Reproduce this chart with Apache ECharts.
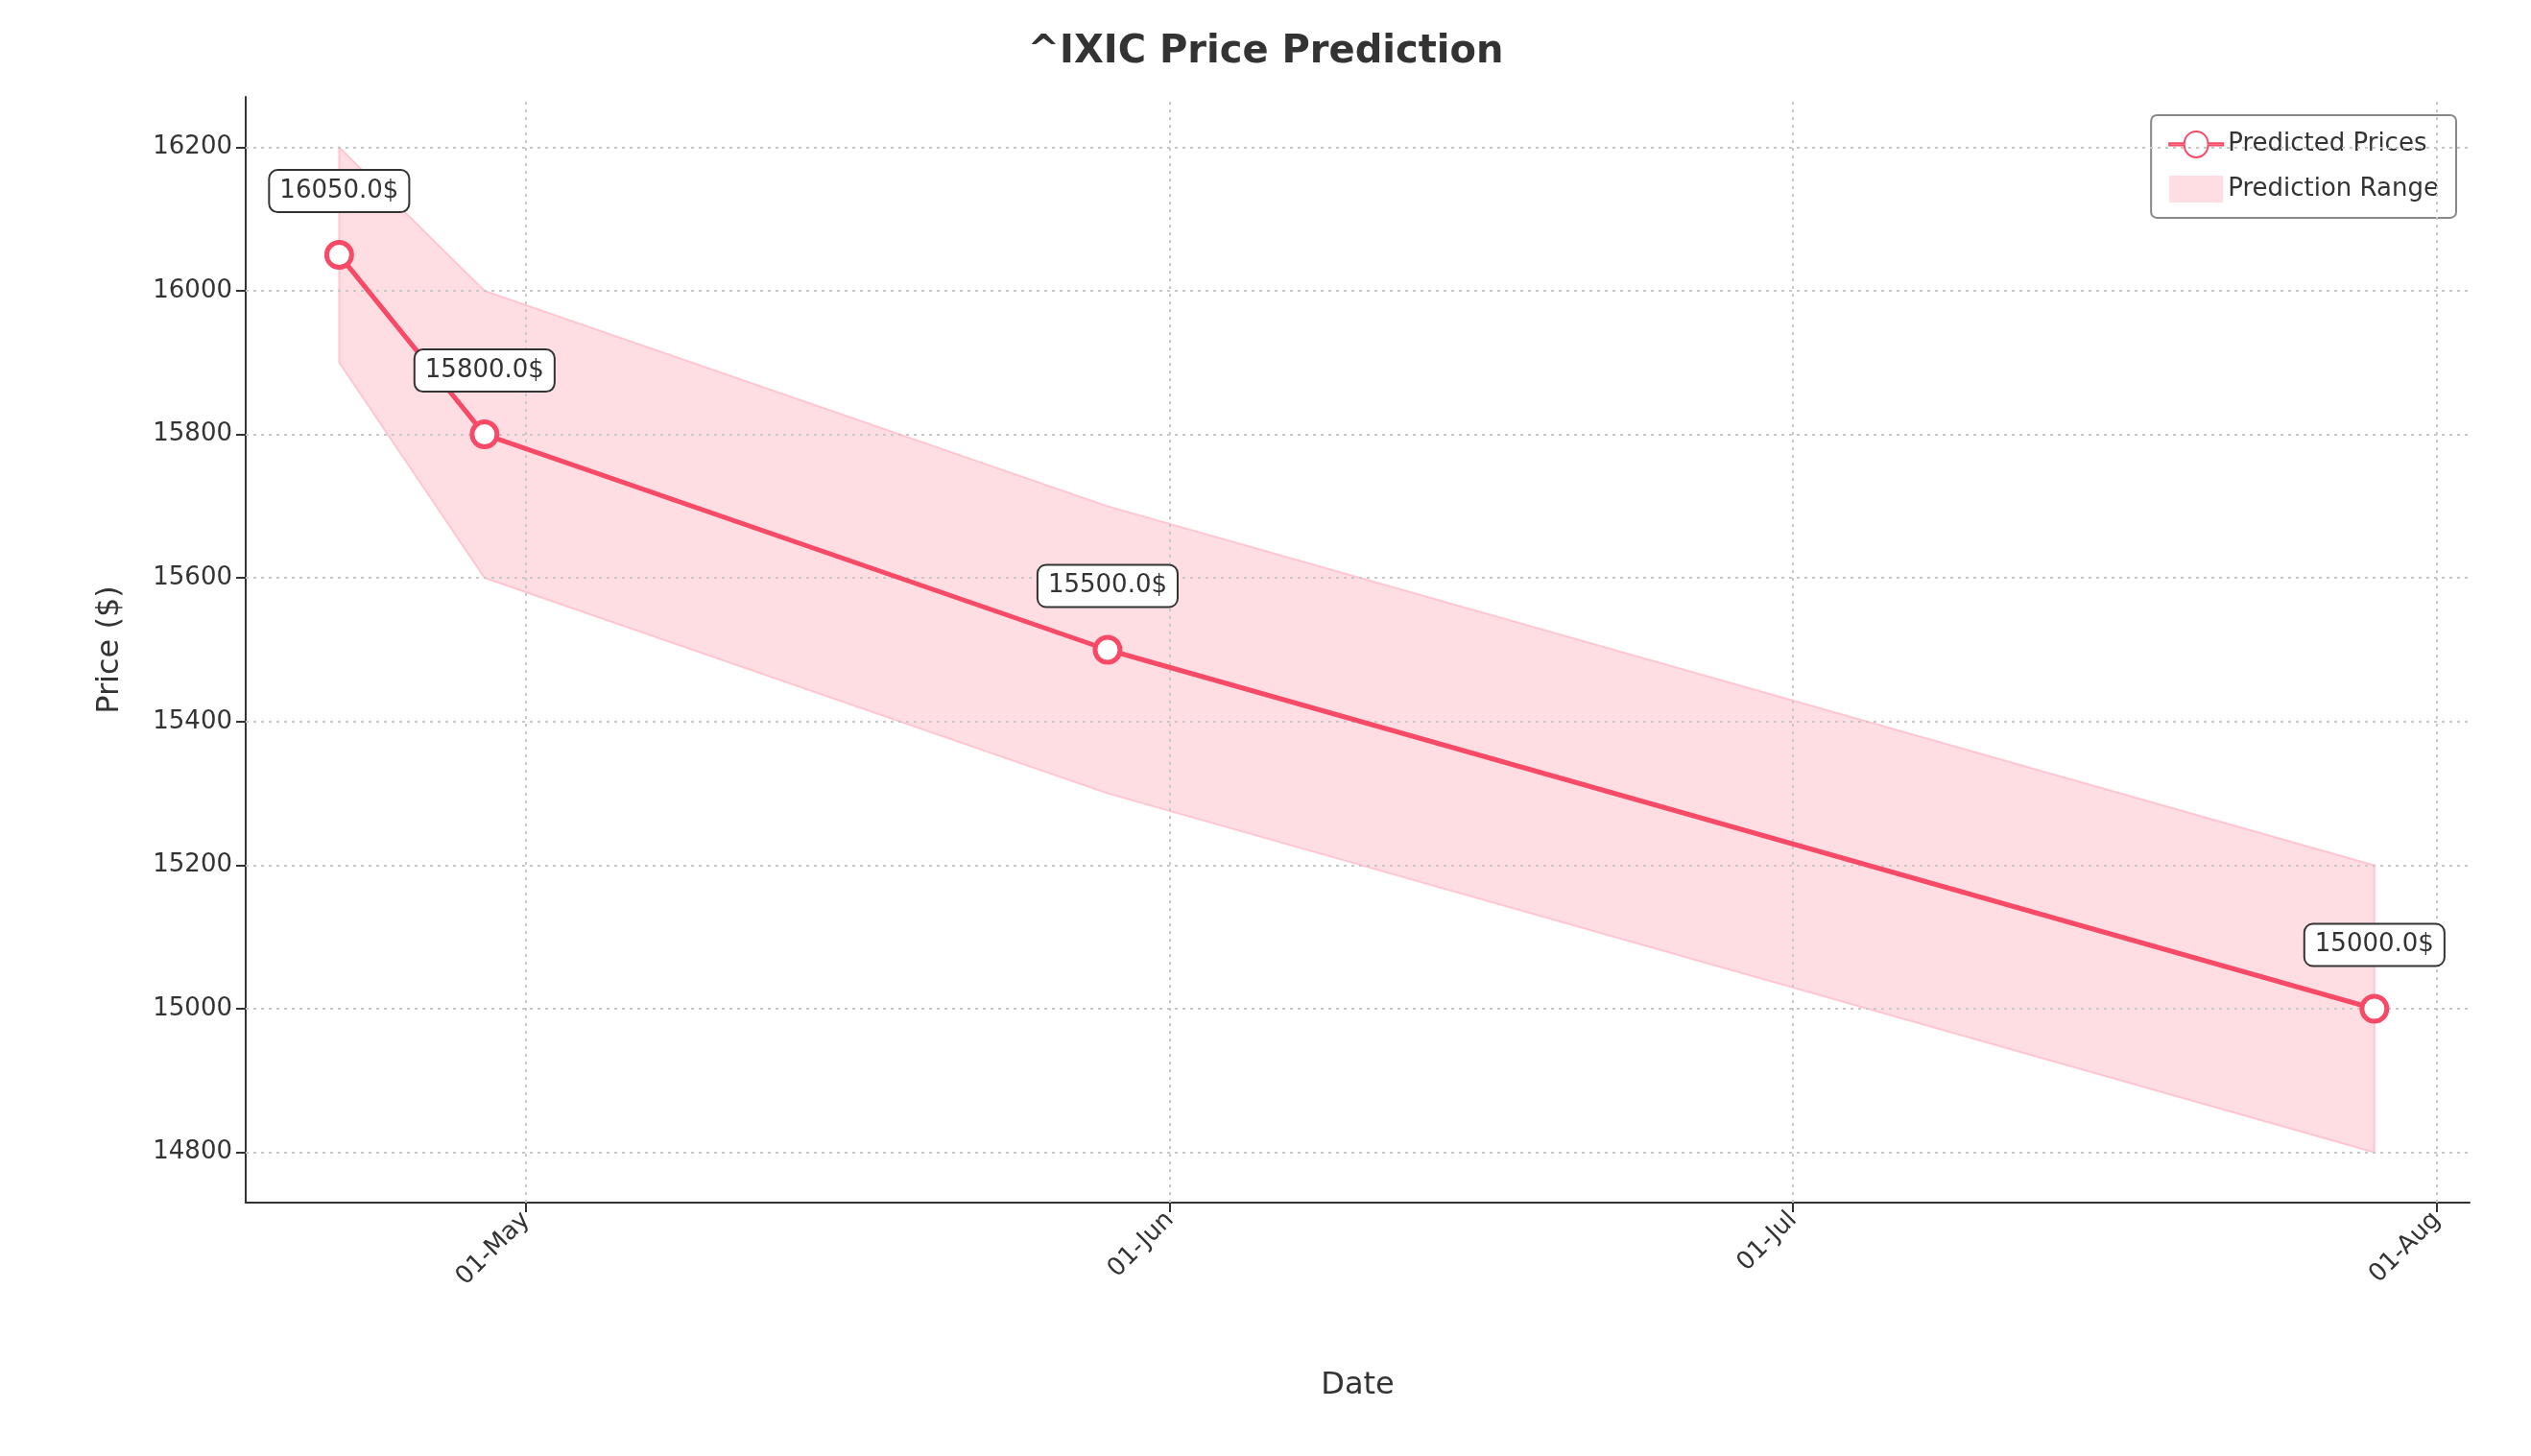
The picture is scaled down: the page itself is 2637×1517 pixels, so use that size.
<!DOCTYPE html>
<html><head><meta charset="utf-8">
<script src="https://cdn.jsdelivr.net/npm/echarts@6/dist/echarts.min.js"></script>
<style>html,body{margin:0;padding:0;background:#fff}#c{width:2637px;height:1517px}</style>
</head><body><div id="c"></div>
<script>
const dates = ['2024-04-22','2024-04-29','2024-05-29','2024-07-29'];
const predicted = [16050, 15800, 15500, 15000];
const lower = [15900, 15600, 15300, 14800];
const upper = [16200, 16000, 15700, 15200];
const xTickDates = ['2024-05-01','2024-06-01','2024-07-01','2024-08-01'];
const yTicks = [14800,15000,15200,15400,15600,15800,16000,16200];

const t = d => new Date(d + 'T00:00:00Z').getTime();
const xTicks = xTickDates.map(t);
const mon = ['Jan','Feb','Mar','Apr','May','Jun','Jul','Aug','Sep','Oct','Nov','Dec'];
const fmt = v => { const d = new Date(v); return String(d.getUTCDate()).padStart(2,'0') + '-' + mon[d.getUTCMonth()]; };
const F = 'DejaVu Sans';
const grid = {type:[3,5], color:'#c8c8c8', width:2};
const bandData = dates.map((d,i)=>[t(d), lower[i], upper[i]]);
const chart = echarts.init(document.getElementById('c'));
chart.setOption({
  animation:false,
  textStyle:{fontFamily:F},
  title:{text:'^IXIC Price Prediction', left:'center', top:30, textStyle:{fontSize:40, fontWeight:'bold', color:'#333', fontFamily:F}},
  grid:{left:256, right:64, top:101, bottom:264},
  legend:{right:78, top:120, orient:'vertical', itemGap:18, padding:[16,18], borderColor:'#888', borderWidth:2, borderRadius:6,
    textStyle:{fontSize:26, color:'#333', fontFamily:F}, itemWidth:56, itemHeight:28,
    data:[{name:'Predicted Prices', icon:'path://M0,10 L14,10 A8,8 0 1,1 36,10 L50,10 L50,12 L36,12 A8,8 0 1,1 14,12 L0,12 Z'},
          {name:'Prediction Range', icon:'rect', itemStyle:{color:'rgba(255,182,193,0.45)', borderColor:'rgba(255,160,180,0.5)'}}]},
  xAxis:{type:'value', min:t('2024-04-17')+12*3600e3, max:t('2024-08-02')+14*3600e3,
    name:'Date', nameLocation:'middle', nameGap:175, nameTextStyle:{fontSize:32, color:'#333'},
    axisLine:{lineStyle:{color:'#333', width:2}},
    axisTick:{customValues:xTicks, length:10, lineStyle:{color:'#333', width:2}},
    axisLabel:{customValues:xTicks, formatter:fmt, rotate:45, fontSize:26, color:'#333', margin:14},
    splitLine:{show:false}},
  yAxis:{type:'value', min:14730, max:16270,
    name:'Price ($)', nameLocation:'middle', nameGap:125, nameTextStyle:{fontSize:32, color:'#333'},
    axisLine:{show:true, lineStyle:{color:'#333', width:2}},
    axisTick:{show:true, customValues:yTicks, length:10, lineStyle:{color:'#333', width:2}},
    axisLabel:{customValues:yTicks, formatter:v=>String(v), fontSize:26, color:'#333', margin:14},
    splitLine:{show:false}},
  series:[
    {name:'Prediction Range', type:'custom', data:bandData, itemStyle:{color:'rgba(255,182,193,0.45)'},
      renderItem:(params, api) => {
        if (params.dataIndex !== 0) return null;
        const top = bandData.map(r => api.coord([r[0], r[2]]));
        const bot = bandData.slice().reverse().map(r => api.coord([r[0], r[1]]));
        return {type:'polygon', shape:{points:top.concat(bot)},
          style:{fill:'rgba(255,182,193,0.45)', stroke:'rgba(255,160,180,0.5)', lineWidth:2}};
      },
      encode:{x:0, y:[1,2]},
      markLine:{silent:true, symbol:'none', label:{show:false}, lineStyle:grid,
        data:[...xTicks.map(v=>({xAxis:v})), ...yTicks.map(v=>({yAxis:v}))]}},
    {name:'Predicted Prices', type:'line', data:dates.map((d,i)=>[t(d),predicted[i]]), symbol:'circle', symbolSize:26,
      lineStyle:{color:'#f74a66', width:5}, itemStyle:{color:'#fff', borderColor:'#f74a66', borderWidth:5},
      label:{show:true, position:'top', distance:30, formatter:p=>p.value[1].toFixed(1)+'$', fontSize:26, color:'#333',
        backgroundColor:'#fff', borderColor:'#333', borderWidth:2, borderRadius:8, padding:[8,10]}, z:5}
  ]
});
</script></body></html>
